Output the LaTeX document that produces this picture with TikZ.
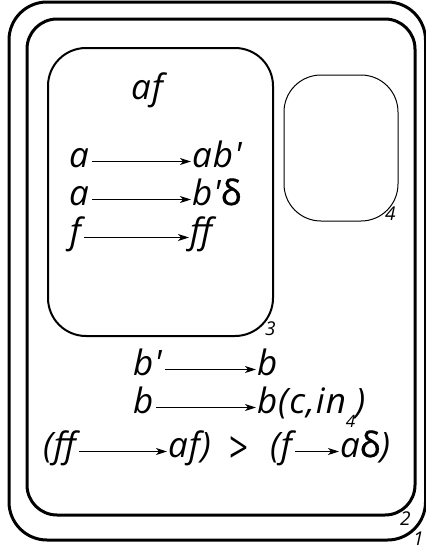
\documentclass[tikz,border=0pt]{standalone}
\usepackage{fontspec}
\usepackage{graphicx}
\setmainfont{Open Sans}
\newfontfamily\wideit{Open Sans}[LetterSpace=3]
\newfontfamily\dltfont{Open Sans}[FakeBold=1]
\usetikzlibrary{arrows.meta}
\newcommand{\qq}{\char"0027\relax}
\newcommand{\dlt}{{\dltfont\upshape\fontsize{35}{36}\selectfont δ}}
\tikzset{
  bigbox/.style={draw, line width=3pt},
  midbox/.style={draw, line width=2pt},
  thinbox/.style={draw, line width=1pt},
  txt/.style={inner sep=0pt, outer sep=0pt, anchor=base west, text height=11pt, text depth=-11pt, font=\wideit\fontsize{35}{36}\selectfont\itshape},
  lbl/.style={inner sep=0pt, anchor=base west, font=\fontsize{19}{22}\selectfont\itshape},
  arr/.style={-{Stealth[length=11pt,width=7pt,inset=3pt]}, line width=1.1pt, shorten <=3pt, shorten >=1pt}
}
\begin{document}
\begin{tikzpicture}[x=1pt,y=-1pt]
\useasboundingbox (0,0) rectangle (426,550);
% boxes
\draw[bigbox, rounded corners=38pt] (9,2) rectangle (425.5,540);
\draw[bigbox, rounded corners=30pt] (27,19) rectangle (415,515);
\draw[midbox, rounded corners=38pt] (48,48) rectangle (273,336);
\draw[thinbox, rounded corners=37pt] (284,75) rectangle (398,221);
% labels
\node[lbl] (l1) at (413,545) {1};
\node[lbl] (l2) at (400,525) {2};
\node[lbl] (l3) at (265,335) {3};
\node[lbl] (l4) at (385,220) {4};
% title
\node[inner sep=0pt, anchor=base, font=\wideit\fontsize{35}{36}\selectfont\itshape] (title) at (147,99) {af};
% rows in box 3
\node[txt] (r1a) at (69,167) {a};
\node[txt] (r1b) at (192,167) {ab\qq};
\node[txt] (r2a) at (69,205) {a};
\node[txt] (r2b) at (192,205) {b\qq\dlt};
\node[txt] (r3a) at (70,243) {f};
\node[txt] (r3b) at (190,243) {ff};
\draw[arr] (r1a) -- (r1b);
\draw[arr] (r2a) -- (r2b);
\draw[arr] (r3a) -- (r3b);
% rows below
\node[txt] (s1a) at (133,375) {b\qq};
\node[txt] (s1b) at (257,375) {b};
\node[txt] (s2a) at (133,413) {b};
\node[txt] (s2b) at (257,413) {b(c,in\raisebox{-14pt}{\fontsize{17}{18}\selectfont 4})};
\draw[arr] (s1a) -- (s1b);
\draw[arr] (s2a) -- (s2b);
\node[txt] (s3a) at (43,457) {(ff};
\node[txt] (s3b) at (168,457) {af)};
\node[inner sep=0pt, anchor=base west] (gt) at (229,463) {\resizebox{19pt}{27pt}{\upshape >}};
\node[txt] (s3c) at (270,457) {(f};
\node[txt] (s3d) at (340,457) {a\dlt)};
\draw[arr] (s3a) -- (s3b);
\draw[arr] (s3c) -- (s3d);
\end{tikzpicture}
\end{document}
